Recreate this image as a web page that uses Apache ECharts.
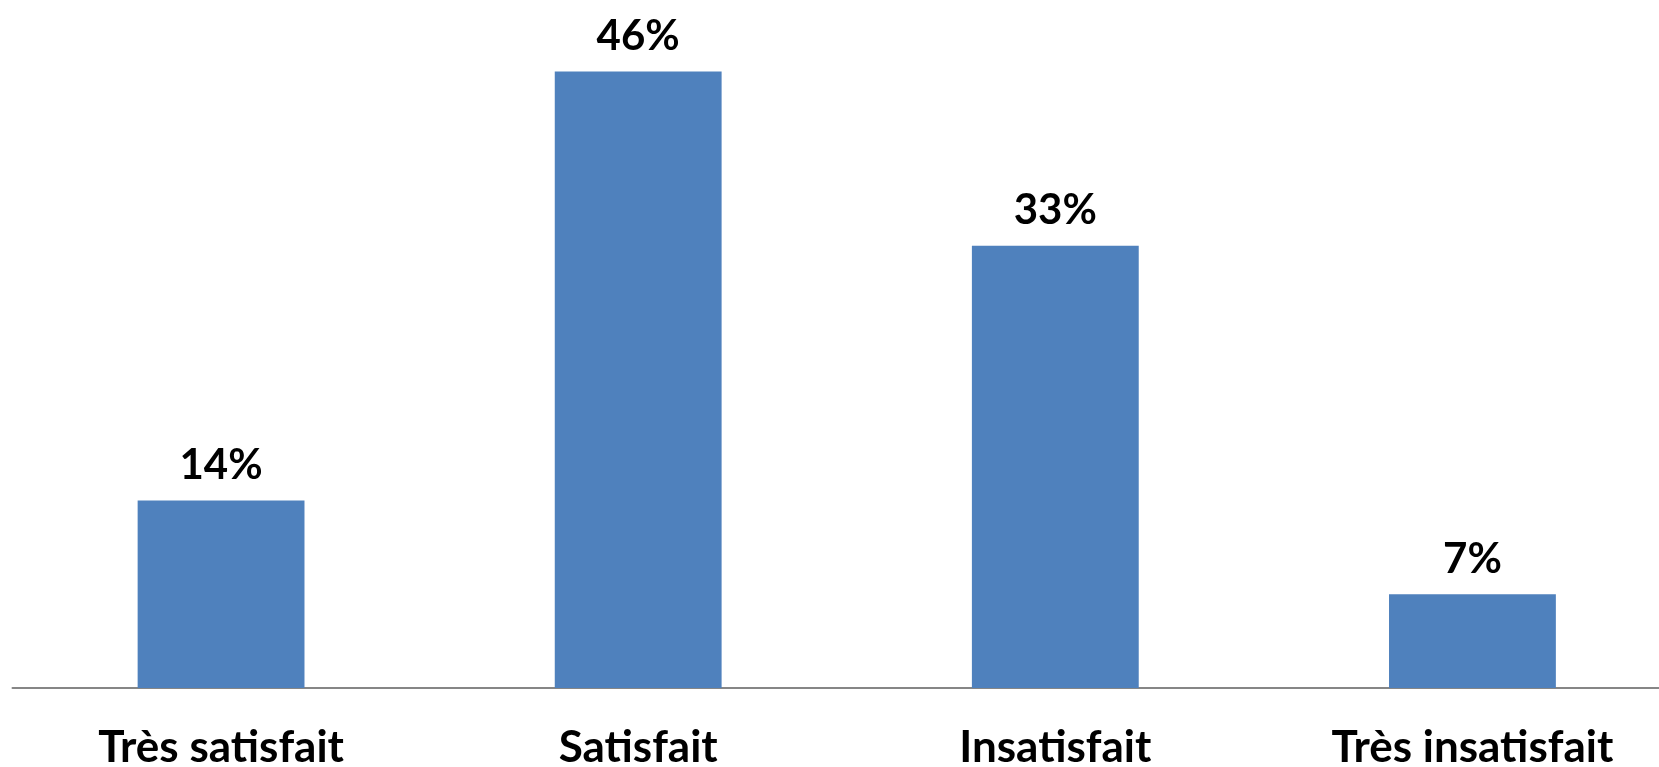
<!DOCTYPE html>
<html><head><meta charset="utf-8">
<script src="https://cdn.jsdelivr.net/npm/echarts@6/dist/echarts.min.js"></script>
<style>html,body{margin:0;padding:0;background:#fff}#c{width:1659px;height:767px}</style>
</head><body><div id="c"></div>
<script>
var categories = ["Très satisfait", "Satisfait", "Insatisfait", "Très insatisfait"];
var values = [14, 46, 33, 7];

var chart = echarts.init(document.getElementById('c'));
chart.setOption({
  animation: false,
  backgroundColor: '#ffffff',
  grid: { left: 12.5, top: 18, right: -22, height: 670, containLabel: false, outerBoundsMode: 'none' },
  xAxis: {
    type: 'category',
    data: categories,
    axisLine: { lineStyle: { color: '#868686', width: 2 } },
    axisTick: { show: false },
    axisLabel: { margin: 38, fontFamily: 'Lato', fontWeight: 'bold', fontSize: 44, color: '#000' }
  },
  yAxis: { type: 'value', min: 0, max: 50, show: false, splitLine: { show: false } },
  series: [{
    type: 'bar',
    data: values,
    barWidth: '40%',
    itemStyle: { color: '#4F81BD' },
    label: {
      show: true, position: 'top', distance: 14,
      formatter: function(p){ return p.value + '%'; },
      fontFamily: 'Lato', fontWeight: 'bold', fontSize: 42, color: '#000'
    }
  }]
});
</script></body></html>
